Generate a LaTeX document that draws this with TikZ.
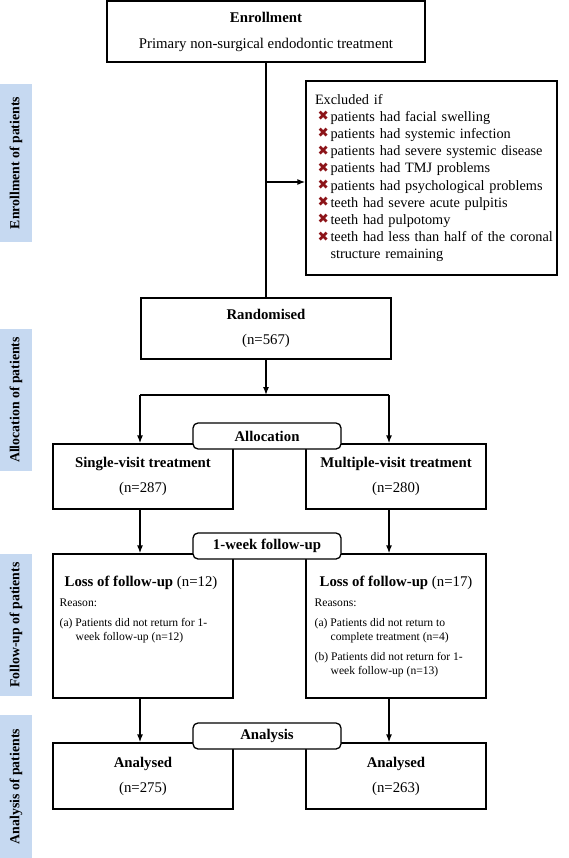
\documentclass[tikz,border=0pt]{standalone}
\usepackage{fontspec}
\setmainfont{Liberation Serif}
\newfontfamily\symfont{DejaVu Sans}
\usetikzlibrary{arrows.meta}
\definecolor{barblue}{RGB}{198,217,241}
\definecolor{xred}{RGB}{140,20,25}
\newcommand{\xmk}{\makebox[13pt][l]{\raisebox{0.5pt}{\symfont\fontsize{13.5}{13.5}\selectfont\color{xred}✖}}}
\newcommand{\xitem}{\hspace*{11.5pt}\xmk}
\begin{document}
\begin{tikzpicture}[x=1pt,y=-1pt,
  line width=1.3pt,
  box/.style={draw, line width=1.3pt, inner sep=0pt, align=center, font=\fontsize{14.8}{25}\selectfont},
  tag/.style={draw, line width=1.3pt, rounded corners=5pt, fill=white, minimum width=148pt, minimum height=26pt, inner sep=0pt, font=\bfseries\fontsize{14.8}{17}\selectfont},
  bar/.style={fill=barblue, rotate=90, minimum height=32pt, inner sep=0pt, font=\bfseries\fontsize{13.8}{16}\selectfont},
  head/.style={anchor=base, inner sep=0pt, font=\fontsize{14.8}{17}\selectfont},
  small/.style={anchor=base west, inner sep=0pt, font=\fontsize{11.6}{14}\selectfont},
  arr/.style={-{Latex[length=8pt,width=6pt]}, line width=1.3pt}
]
\useasboundingbox (0,0) rectangle (568,858);

% side bars
\node[bar, minimum width=158pt] (barEnr) at (16,163) {Enrollment of patients};
\node[bar, minimum width=142pt] (barAll) at (16,400) {Allocation of patients};
\node[bar, minimum width=142pt] (barFol) at (16,625) {Follow-up of patients};
\node[bar, minimum width=143pt] (barAna) at (16,786.5) {Analysis of patients};

% boxes
\node[box, minimum width=318pt, minimum height=61pt] (enr) at (266,31.5)
  {\textbf{Enrollment}\\[1pt]Primary non-surgical endodontic treatment};
\node[draw, line width=1.3pt, minimum width=251pt, minimum height=194pt, inner sep=0pt,
  text width=251pt, align=left, font=\fontsize{14.3}{17.2}\selectfont] (exc) at (431.5,178)
  {\hspace*{9pt}Excluded if\\
   \xitem patients had facial swelling\\
   \xitem patients had systemic infection\\
   \xitem patients had severe systemic disease\\
   \xitem patients had TMJ problems\\
   \xitem patients had psychological problems\\
   \xitem teeth had severe acute pulpitis\\
   \xitem teeth had pulpotomy\\
   \xitem \mbox{teeth had less than half of the coronal}\\
   \hspace*{24.5pt}structure remaining};
\node[box, minimum width=250pt, minimum height=61pt] (rand) at (266,328.5)
  {\textbf{Randomised}\\(n=567)};
\node[box, minimum width=180pt, minimum height=65pt] (single) at (143,476.5)
  {\textbf{Single-visit treatment}\\(n=287)};
\node[box, minimum width=180pt, minimum height=65pt] (multi) at (396,476.5)
  {\textbf{Multiple-visit treatment}\\(n=280)};
\node[box, minimum width=180pt, minimum height=144pt] (lossL) at (143,626) {};
\node[box, minimum width=180pt, minimum height=144pt] (lossR) at (396,626) {};
\node[box, minimum width=180pt, minimum height=66pt] (anaL) at (143,776)
  {\textbf{Analysed}\\(n=275)};
\node[box, minimum width=180pt, minimum height=66pt] (anaR) at (396,776)
  {\textbf{Analysed}\\(n=263)};

% texts in loss boxes
\node[head] (lossLh) at (141,586) {\textbf{Loss of follow-up} (n=12)};
\node[small] (lossLr) at (59,606) {Reason:};
\node[small] (lossLa1) at (59,626) {(a) Patients did not return for 1-};
\node[small] (lossLa2) at (75,640) {week follow-up (n=12)};
\node[head] (lossRh) at (396,586) {\textbf{Loss of follow-up} (n=17)};
\node[small] (lossRr) at (314,606) {Reasons:};
\node[small] (lossRa1) at (314,626) {(a) Patients did not return to};
\node[small] (lossRa2) at (330,640) {complete treatment (n=4)};
\node[small] (lossRb1) at (314,660) {(b) Patients did not return for 1-};
\node[small] (lossRb2) at (330,674) {week follow-up (n=13)};

% connectors
\draw (enr) -- (rand);
\coordinate (exj) at (266,182);
\draw[arr] (exj) -- (exj -| exc.west);
\coordinate (split) at (266,395);
\draw[arr] (rand) -- (split);
\coordinate (spL) at (140,395);
\coordinate (spR) at (389,395);
\draw (spL) -- (spR);
\draw[arr] (spL) -- (spL |- single.north);
\draw[arr] (spR) -- (spR |- multi.north);
\draw[arr] (spL |- single.south) -- (spL |- lossL.north);
\draw[arr] (spR |- multi.south) -- (spR |- lossR.north);
\draw[arr] (spL |- lossL.south) -- (spL |- anaL.north);
\draw[arr] (spR |- lossR.south) -- (spR |- anaR.north);

% stage tags
\node[tag] (tagAll) at (267,436) {Allocation};
\node[tag] (tagFol) at (267,546) {1-week follow-up};
\node[tag] (tagAna) at (267,736) {Analysis};
\end{tikzpicture}
\end{document}
